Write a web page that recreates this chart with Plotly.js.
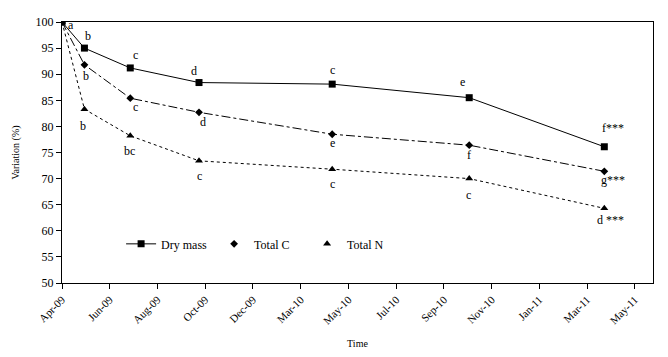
<!DOCTYPE html>
<html>
<head>
<meta charset="utf-8">
<script src="https://cdn.plot.ly/plotly-3.0.1.min.js"></script>
<style>
  html, body { margin: 0; padding: 0; background: #fff; }
  #graph { width: 668px; height: 357px; }
</style>
</head>
<body>
<div id="graph"></div>
<script>
// tick labels along time axis (equal spacing, one per tick)
let tickLabels = ['Apr-09', 'Jun-09', 'Aug-09', 'Oct-09', 'Dec-09', 'Mar-10', 'May-10',
                  'Jul-10', 'Sep-10', 'Nov-10', 'Jan-11', 'Mar-11', 'May-11'];

// sampling times, in tick units from Apr-09
let sampleTimes = [0, 0.47, 1.43, 2.87, 5.66, 8.53, 11.36];

// variation (%) per series
let dryMass = [100, 95.0, 91.2, 88.4, 88.1, 85.5, 76.1];
let totalC  = [100, 91.8, 85.4, 82.7, 78.5, 76.4, 71.4];
let totalN  = [100, 83.3, 78.2, 73.4, 71.8, 70.0, 64.3];

// significance letters
let dryMassLetters = ['a', 'b', 'c', 'd', 'c', 'e', 'f***'];
let totalCLetters  = ['', 'b', 'c', 'd', 'e', 'f', 'g***'];
let totalNLetters  = ['', 'b', 'bc', 'c', 'c', 'c', 'd ***'];

// label offsets in px (dx, dy with dy positive = down)
let dryMassOffsets = [[9, 3], [4, -12], [5, -13], [-5, -12], [0, -14], [-7, -16], [9, -19]];
let totalCOffsets  = [[0, 0], [2, 11], [5, 9], [4, 10], [0, 9], [0, 10], [9, 9]];
let totalNOffsets  = [[0, 0], [-1, 17], [-1, 15], [0, 15], [0, 15], [-1, 16], [6, 12]];

let font = 'Liberation Serif, Times New Roman, serif';

let traces = [
  {
    x: sampleTimes, y: dryMass, name: 'Dry mass',
    type: 'scatter', mode: 'lines+markers',
    line: {color: '#000', width: 1, dash: 'solid'},
    marker: {symbol: 'square', size: 7, color: '#000'}
  },
  {
    x: sampleTimes, y: totalC, name: 'Total C', showlegend: false,
    type: 'scatter', mode: 'lines+markers',
    line: {color: '#000', width: 1, dash: 'dashdot'},
    marker: {symbol: 'diamond', size: 6, color: '#000'}
  },
  {
    x: sampleTimes, y: totalN, name: 'Total N', showlegend: false,
    type: 'scatter', mode: 'lines+markers',
    line: {color: '#000', width: 1, dash: 'dot'},
    marker: {symbol: 'triangle-up', size: 7, color: '#000'}
  },
  // legend entries for the dotted series show only the marker
  {
    x: [null], y: [null], name: 'Total C', type: 'scatter', mode: 'markers',
    marker: {symbol: 'diamond', size: 6, color: '#000'}
  },
  {
    x: [null], y: [null], name: 'Total N', type: 'scatter', mode: 'markers',
    marker: {symbol: 'triangle-up', size: 7, color: '#000'}
  }
];

// letters placed next to each point
let annotations = [];
function addLetters(ys, letters, offsets) {
  for (let i = 0; i < ys.length; i++) {
    if (!letters[i]) continue;
    annotations.push({
      x: sampleTimes[i], y: ys[i], xref: 'x', yref: 'y',
      text: letters[i], showarrow: false,
      xshift: offsets[i][0], yshift: -offsets[i][1],
      font: {family: font, size: 12, color: '#000'}
    });
  }
}
addLetters(dryMass, dryMassLetters, dryMassOffsets);
addLetters(totalC, totalCLetters, totalCOffsets);
addLetters(totalN, totalNLetters, totalNOffsets);

let layout = {
  width: 668, height: 357,
  margin: {l: 62, r: 15, t: 22, b: 74},
  paper_bgcolor: '#fff', plot_bgcolor: '#fff',
  font: {family: font, size: 11, color: '#000'},
  showlegend: true,
  legend: {
    orientation: 'h', x: 0.1, y: 0.15, xanchor: 'left', yanchor: 'middle',
    bgcolor: 'rgba(0,0,0,0)', font: {family: font, size: 12},
    entrywidth: 48, itemwidth: 30
  },
  xaxis: {
    range: [0, 12.38],
    tickmode: 'array',
    tickvals: tickLabels.map((t, i) => i),
    ticktext: tickLabels,
    tickangle: -45,
    ticks: 'outside', ticklen: 5, tickcolor: '#000',
    showline: true, linecolor: '#000', linewidth: 1, mirror: true,
    showgrid: false, zeroline: false,
    tickfont: {family: font, size: 11},
    title: {text: 'Time', font: {family: font, size: 10}, standoff: 14}
  },
  yaxis: {
    range: [50, 100],
    tickmode: 'linear', tick0: 50, dtick: 5,
    ticks: 'outside', ticklen: 5, tickcolor: '#000',
    showline: true, linecolor: '#000', linewidth: 1, mirror: true,
    showgrid: false, zeroline: false,
    tickfont: {family: font, size: 12},
    title: {text: 'Variation (%)', font: {family: font, size: 10}, standoff: 14}
  },
  annotations: annotations
};

Plotly.newPlot('graph', traces, layout, {displayModeBar: false, staticPlot: true});
</script>
</body>
</html>
